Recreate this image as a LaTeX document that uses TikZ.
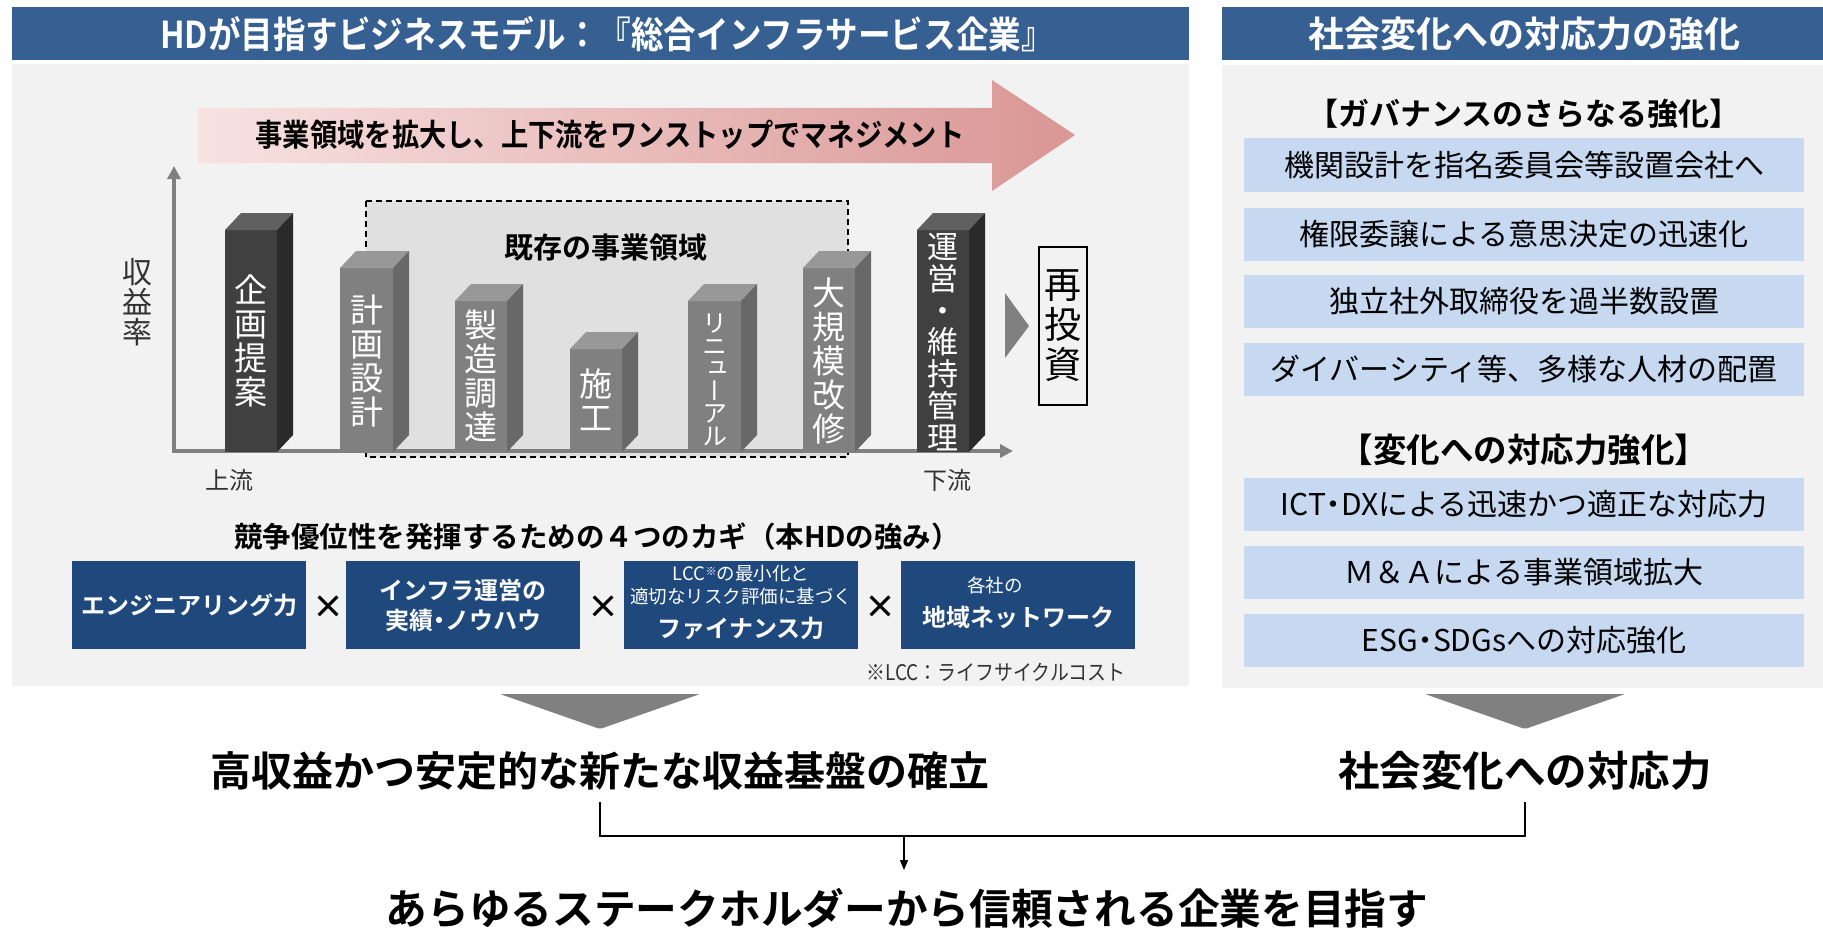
\documentclass[tikz,border=0pt]{standalone}
\usepackage{fontspec}
\usepackage{graphicx}
\usetikzlibrary{arrows.meta}
\setmainfont{Noto Sans CJK JP}[BoldFont={Noto Sans CJK JP Bold}]
\newfontfamily\jp{Noto Sans CJK JP}[BoldFont={Noto Sans CJK JP Bold}]
\newfontfamily\jpc{Noto Sans CJK JP}[BoldFont={Noto Sans CJK JP Bold},FakeStretch=0.88]
\newfontfamily\jpv{Noto Sans CJK JP}[RawFeature=+vert]
\newcommand\ndot{\kern-0.25em・\kern-0.25em}
\definecolor{hdrblue}{RGB}{55,96,146}
\definecolor{keyblue}{RGB}{31,73,125}
\definecolor{lightbox}{RGB}{198,217,240}
\definecolor{panelgray}{RGB}{242,242,242}
\definecolor{dashfill}{RGB}{224,224,224}
\definecolor{pinkL}{RGB}{248,226,226}
\definecolor{pinkR}{RGB}{217,150,148}
\definecolor{axisgray}{RGB}{128,128,128}
\definecolor{darkF}{RGB}{64,64,64}
\definecolor{darkT}{RGB}{96,96,96}
\definecolor{darkS}{RGB}{42,42,42}
\definecolor{grayF}{RGB}{128,128,128}
\definecolor{grayT}{RGB}{152,152,152}
\definecolor{grayS}{RGB}{104,104,104}
\definecolor{txtgray}{RGB}{50,50,50}
\newcommand\drawbar[6]{%
  \fill[#4] (#1,#3) rectangle (#2,452);
  \fill[#5] (#1,#3) -- (#1+16,#3-17) -- (#2+16,#3-17) -- (#2,#3) -- cycle;
  \fill[#6] (#2,#3) -- (#2+16,#3-17) -- (#2+16,435) -- (#2,452) -- cycle;
}
\tikzset{
  hdrbox/.style={fill=hdrblue, draw=none, inner sep=0pt},
  hdrtext/.style={text=white, inner sep=0pt, font=\jpc\bfseries\fontsize{37}{40}\selectfont},
  keybox/.style={fill=keyblue, draw=none, inner sep=0pt, minimum width=234pt, minimum height=88pt},
  keybig/.style={text=white, inner sep=0pt, font=\jp\bfseries\fontsize{24}{30}\selectfont},
  keysmall/.style={text=white, inner sep=0pt, font=\jp\fontsize{18.5}{20}\selectfont},
  timesmark/.style={text=black, inner sep=0pt, font=\jp\bfseries\fontsize{32}{32}\selectfont},
  lbox/.style={fill=lightbox, draw=none, inner sep=0pt, minimum width=560pt, minimum height=53pt},
  ltext/.style={text=black, inner sep=0pt, font=\jp\fontsize{30}{32}\selectfont},
  subhead/.style={text=black, inner sep=0pt, font=\jp\bfseries\fontsize{31}{34}\selectfont},
  bartext/.style={text=white, inner sep=0pt, align=center},
  axislabel/.style={text=txtgray, inner sep=0pt, font=\jp\fontsize{24}{26}\selectfont},
  bigtext/.style={text=black, inner sep=0pt, font=\jp\bfseries\fontsize{41}{44}\selectfont},
  downtri/.style={fill=axisgray, rounded corners=2pt},
  conn/.style={draw=black, line width=1.3pt},
}
\begin{document}
\begin{tikzpicture}[x=1pt,y=-1pt]
\useasboundingbox (0,0) rectangle (1823,931);
\fill[white] (0,0) rectangle (1823,931);

% ---------- headers ----------
\node[hdrbox, minimum width=1177pt, minimum height=53pt] (hL) at (600.5,33.5) {};
\node[hdrtext] (hLt) at (607,34) {HDが目指すビジネスモデル：『総合インフラサービス企業』};
\node[hdrbox, minimum width=601pt, minimum height=53pt] (hR) at (1522.5,33.5) {};
\node[hdrtext, font=\jp\bfseries\fontsize{36}{40}\selectfont] (hRt) at (1524,34) {社会変化への対応力の強化};

% ---------- panels ----------
\fill[panelgray] (12,64) rectangle (1189,686);
\fill[panelgray] (1222,65) rectangle (1823,688);

% ---------- pink arrow ----------
\shade[left color=pinkL, right color=pinkR] (198,108) -- (992,108) -- (992,80) -- (1075,135) -- (992,191) -- (992,163) -- (198,163) -- cycle;
\node[inner sep=0pt, font=\jpc\bfseries\fontsize{31}{34}\selectfont] (arrt) at (610,135) {事業領域を拡大し、上下流をワンストップでマネジメント};

% ---------- existing domain box ----------
\fill[dashfill] (366,201) rectangle (848,457);
\draw[black, line width=1.4pt, dash pattern=on 6pt off 4pt] (366,201) rectangle (848,457);
\node[inner sep=0pt, font=\jp\bfseries\fontsize{29}{32}\selectfont] (exist) at (606,248) {既存の事業領域};

% ---------- axes ----------
\draw[axisgray, line width=4pt, -{Triangle[length=13pt,width=13pt]}] (174,453) -- (174,166);
\draw[axisgray, line width=4pt, -{Triangle[length=13pt,width=13pt]}] (172,451) -- (1013,451);
\node[axislabel, align=center, font=\jp\fontsize{30}{30}\selectfont] (yl) at (137,302) {収\\益\\率};
\node[axislabel] (up) at (229,480) {上流};
\node[axislabel] (down) at (947,480) {下流};

% ---------- bars ----------
\drawbar{225}{277}{230}{darkF}{darkT}{darkS}
\drawbar{340}{393}{268}{grayF}{grayT}{grayS}
\drawbar{455}{507}{301}{grayF}{grayT}{grayS}
\drawbar{570}{622}{349}{grayF}{grayT}{grayS}
\drawbar{688}{741}{301}{grayF}{grayT}{grayS}
\drawbar{803}{855}{268}{grayF}{grayT}{grayS}
\drawbar{917}{969}{230}{darkF}{darkT}{darkS}

\node[bartext, font=\jpv\fontsize{33}{34}\selectfont] (b1) at (251,341) {企\\画\\提\\案};
\node[bartext, font=\jpv\fontsize{33}{34}\selectfont] (b2) at (366.5,361) {計\\画\\設\\計};
\node[bartext, font=\jpv\fontsize{33}{34}\selectfont] (b3) at (481,376) {製\\造\\調\\達};
\node[bartext, font=\jpv\fontsize{33}{34}\selectfont] (b4) at (596,400) {施\\工};
\node[bartext, font=\jpv\fontsize{25}{22.5}\selectfont] (b5) at (714.5,380) {リ\\ニ\\ュ\\ー\\ア\\ル};
\node[bartext, font=\jpv\fontsize{33}{34}\selectfont] (b6) at (829,361) {大\\規\\模\\改\\修};
\node[bartext, font=\jpv\fontsize{31}{31.7}\selectfont] (b7) at (943,342) {運\\営\\・\\維\\持\\管\\理};

% re-investment
\fill[axisgray] (1005,293) -- (1029,326) -- (1005,358) -- cycle;
\node[draw=black, line width=1.3pt, inner sep=0pt, minimum width=48pt, minimum height=158pt] (rbox) at (1063,326) {};
\node[inner sep=0pt, align=center, text=black, font=\jpv\fontsize{37}{40}\selectfont] (rtext) at (1063,326) {再\\投\\資};

% ---------- four keys ----------
\node[inner sep=0pt, font=\jp\bfseries\fontsize{28.5}{32}\selectfont] (keyt) at (597,537) {競争優位性を発揮するための４つのカギ（本HDの強み）};
\node[keybox] (k1) at (189,605) {};
\node[keybox] (k2) at (463,605) {};
\node[keybox] (k3) at (741,605) {};
\node[keybox] (k4) at (1018,605) {};
\node[keybig] (k1t) at (189,605) {エンジニアリング力};
\node[keybig] (k2a) at (463,590) {インフラ運営の};
\node[keybig] (k2b) at (463,620) {実績\ndot ノウハウ};
\node[keysmall] (k3a) at (741,574) {LCC\raisebox{5pt}{\fontsize{11}{11}\selectfont ※}の最小化と};
\node[keysmall] (k3b) at (741,597) {適切なリスク評価に基づく};
\node[keybig] (k3c) at (741,628) {ファイナンス力};
\node[keysmall] (k4a) at (995,585) {各社の};
\node[keybig] (k4b) at (1018,617) {地域ネットワーク};
\node[timesmark] (x1) at (328,607) {×};
\node[timesmark] (x2) at (603,607) {×};
\node[timesmark] (x3) at (880,607) {×};
\node[inner sep=0pt, text=txtgray, font=\jpc\fontsize{21.5}{23}\selectfont] (note) at (996,672) {※LCC：ライフサイクルコスト};

% ---------- right panel ----------
\node[subhead] (g1) at (1524,114) {【ガバナンスのさらなる強化】};
\node[lbox] (r1) at (1524,165) {};
\node[lbox] (r2) at (1524,234) {};
\node[lbox] (r3) at (1524,301) {};
\node[lbox] (r4) at (1524,369) {};
\node[ltext] (r1t) at (1524,165) {機関設計を指名委員会等設置会社へ};
\node[ltext] (r2t) at (1524,234) {権限委譲による意思決定の迅速化};
\node[ltext] (r3t) at (1524,301) {独立社外取締役を過半数設置};
\node[ltext] (r4t) at (1524,369) {ダイバーシティ等、多様な人材の配置};
\node[subhead, font=\jp\bfseries\fontsize{33.5}{36}\selectfont] (g2) at (1524,450) {【変化への対応力強化】};
\node[lbox] (r5) at (1524,504) {};
\node[lbox] (r6) at (1524,572) {};
\node[lbox] (r7) at (1524,640) {};
\node[ltext] (r5t) at (1524,504) {ICT\ndot DXによる迅速かつ適正な対応力};
\node[ltext] (r6t) at (1524,572) {Ｍ＆Ａによる事業領域拡大};
\node[ltext] (r7t) at (1524,640) {ESG\ndot SDGsへの対応強化};

% ---------- down triangles ----------
\fill[downtri] (500,694) -- (700,694) -- (600,729) -- cycle;
\fill[downtri] (1425,694) -- (1625,694) -- (1525,729) -- cycle;

% ---------- results ----------
\node[bigtext] (t1) at (600,771) {高収益かつ安定的な新たな収益基盤の確立};
\node[bigtext, font=\jp\bfseries\fontsize{41.5}{44}\selectfont] (t2) at (1525,771) {社会変化への対応力};
\node[bigtext, font=\jp\bfseries\fontsize{41.7}{46}\selectfont] (t3) at (907,908) {あらゆるステークホルダーから信頼される企業を目指す};

\coordinate (c1) at (600,802);
\coordinate (c2) at (1525,802);
\coordinate (cm) at (904,836);
\coordinate (ae) at (904,870);
\draw[conn] (c1) |- (cm);
\draw[conn] (c2) |- (cm);
\draw[line width=1.2pt, -{Triangle[length=10pt,width=8pt]}] (cm) -- (ae);
\end{tikzpicture}
\end{document}
